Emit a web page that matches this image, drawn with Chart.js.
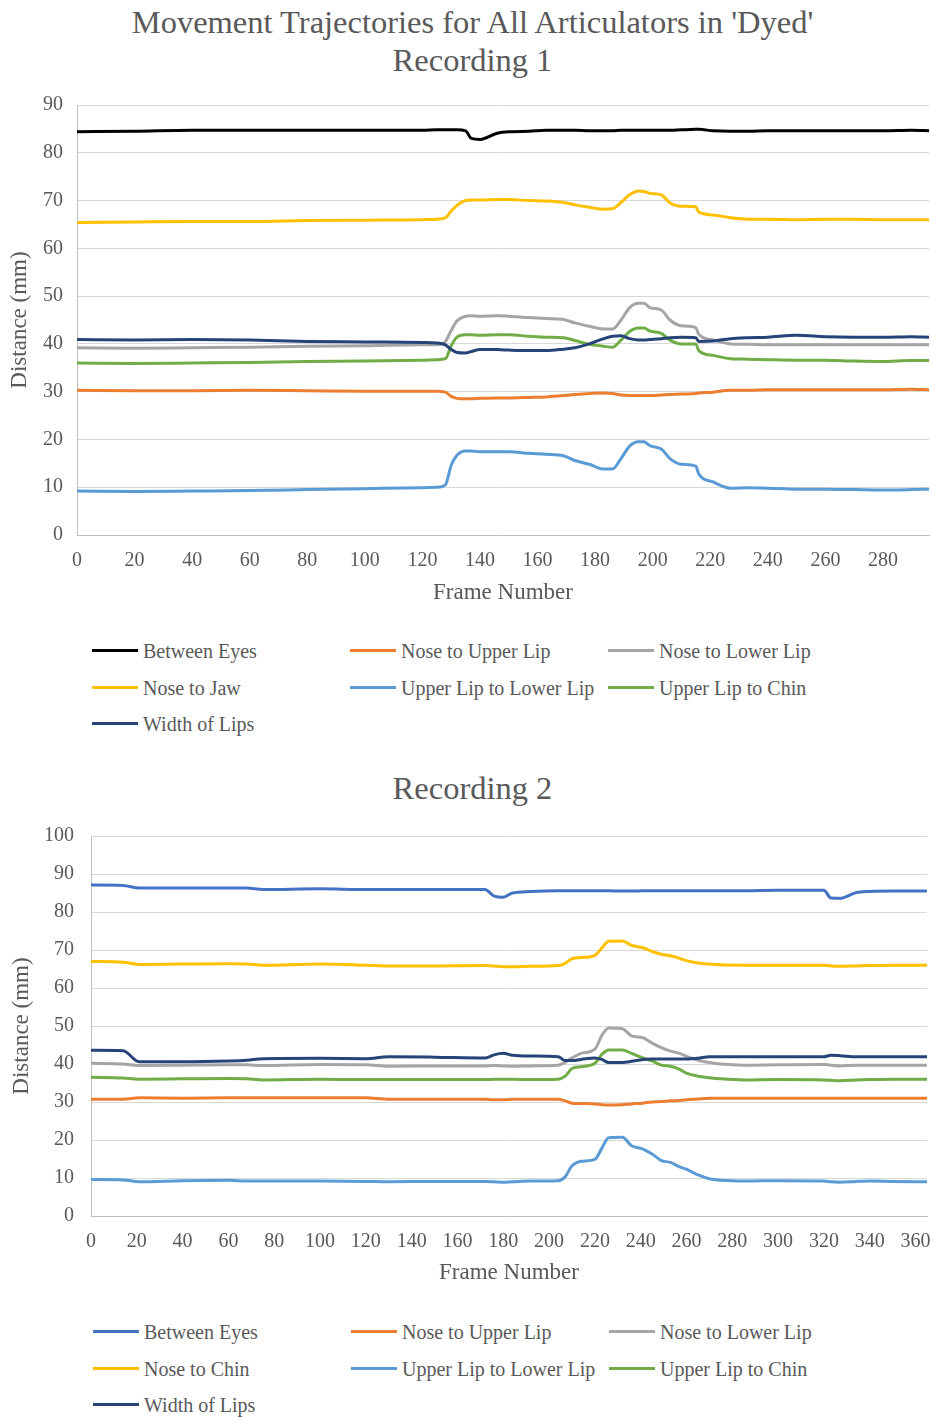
<!DOCTYPE html>
<html>
<head>
<meta charset="utf-8">
<title>Movement Trajectories - Dyed</title>
<script src="https://cdn.jsdelivr.net/npm/chart.js@4.4.0/dist/chart.umd.min.js"></script>
<style>
    body { margin: 0; background: #fff; width: 931px; height: 1418px; position: relative; overflow: hidden;
           font-family: "Liberation Serif", "Times New Roman", serif; color: #595959; }
    .title { position: absolute; left: 7px; width: 931px; text-align: center; font-size: 32.5px; line-height: 38px; white-space: nowrap; }
    .chart-box { position: absolute; left: 0; }
    .legend-item { position: absolute; height: 24px; font-size: 20px; line-height: 24px; white-space: nowrap; }
    .legend-item .swatch { position: absolute; left: 0; top: 10px; width: 46px; height: 3px; }
    .legend-item .label { position: absolute; left: 51px; top: 0; }
</style>
</head>
<body>

<div class="title" style="top:3px;">Movement Trajectories for All Articulators in 'Dyed'</div>
<div class="title" style="top:41px;">Recording 1</div>
<div class="chart-box" style="top:0;"><canvas id="chart1" width="931" height="610"></canvas></div>
<div id="legend1"></div>

<div class="title" style="top:769px;">Recording 2</div>
<div class="chart-box" style="top:740px;"><canvas id="chart2" width="931" height="554"></canvas></div>
<div id="legend2"></div>

<script>
// ---- Recording 1 ----
const frames1 = [0, 20, 40, 60, 80, 100, 120, 125, 128, 130, 132, 135, 137, 140, 146, 150, 157, 163, 169, 173, 178,
    183, 186, 189, 192, 195, 197, 199, 203, 206, 210, 215, 216, 221, 227, 233, 240, 250, 260, 270, 280, 290, 296];
const betweenEyes1 = [84.4, 84.5, 84.7, 84.7, 84.7, 84.7, 84.7, 84.8, 84.8, 84.8, 84.8, 84.6, 83.0, 82.8, 84.1, 84.4, 84.5, 84.7, 84.7, 84.7, 84.6,
    84.6, 84.6, 84.7, 84.7, 84.7, 84.7, 84.7, 84.7, 84.7, 84.8, 84.9, 84.9, 84.6, 84.5, 84.5, 84.6, 84.6, 84.6, 84.6, 84.6, 84.7, 84.6];
const noseUpperLip1 = [30.3, 30.2, 30.2, 30.3, 30.2, 30.1, 30.1, 30.1, 29.9, 29.0, 28.6, 28.5, 28.5, 28.6, 28.7, 28.7, 28.8, 28.9, 29.2, 29.4, 29.6,
    29.7, 29.6, 29.3, 29.2, 29.2, 29.2, 29.2, 29.3, 29.4, 29.5, 29.6, 29.7, 29.9, 30.3, 30.3, 30.4, 30.4, 30.4, 30.4, 30.4, 30.5, 30.4];
const noseLowerLip1 = [39.2, 39.1, 39.2, 39.3, 39.5, 39.6, 39.8, 39.8, 40.5, 42.8, 44.8, 45.8, 45.9, 45.8, 45.9, 45.8, 45.5, 45.3, 45.1, 44.4, 43.7,
    43.1, 43.1, 45.0, 47.6, 48.5, 48.5, 47.6, 47.1, 45.0, 43.8, 43.4, 42.0, 40.8, 40.0, 39.9, 39.8, 39.8, 39.8, 39.8, 39.8, 39.8, 39.8];
const noseJaw1 = [65.4, 65.5, 65.6, 65.6, 65.8, 65.9, 66.0, 66.1, 66.4, 67.8, 69.0, 70.0, 70.1, 70.1, 70.2, 70.2, 70.0, 69.9, 69.6, 69.1, 68.6,
    68.2, 68.3, 69.6, 71.2, 72.0, 71.9, 71.5, 71.2, 69.5, 68.8, 68.7, 67.6, 67.0, 66.4, 66.1, 66.1, 66.0, 66.1, 66.1, 66.0, 66.0, 66.0];
const lipGap1 = [9.2, 9.1, 9.2, 9.3, 9.5, 9.7, 9.9, 10.0, 10.5, 14.6, 16.7, 17.6, 17.6, 17.4, 17.4, 17.4, 17.1, 16.9, 16.6, 15.6, 14.8,
    13.8, 13.8, 16.0, 18.6, 19.5, 19.5, 18.7, 18.0, 16.0, 14.8, 14.4, 12.8, 11.1, 9.8, 9.9, 9.8, 9.6, 9.6, 9.5, 9.4, 9.5, 9.6];
const lipChin1 = [36.0, 35.9, 36.0, 36.1, 36.3, 36.4, 36.6, 36.7, 36.9, 39.6, 41.4, 41.9, 41.9, 41.8, 41.9, 41.9, 41.6, 41.4, 41.3, 40.7, 39.9,
    39.5, 39.3, 40.8, 42.6, 43.3, 43.3, 42.7, 42.2, 40.8, 40.0, 40.0, 38.6, 37.6, 36.9, 36.8, 36.7, 36.6, 36.6, 36.4, 36.3, 36.5, 36.5];
const lipWidth1 = [40.9, 40.8, 40.9, 40.8, 40.5, 40.4, 40.3, 40.2, 39.8, 38.8, 38.2, 38.1, 38.4, 38.8, 38.8, 38.7, 38.6, 38.6, 38.9, 39.2, 40.0,
    41.1, 41.6, 41.7, 41.1, 40.8, 40.8, 40.9, 41.1, 41.3, 41.4, 41.3, 40.5, 40.6, 41.1, 41.3, 41.4, 41.8, 41.5, 41.4, 41.4, 41.5, 41.4];

// ---- Recording 2 ----
const frames2 = [0, 14, 21, 40, 60, 68, 75, 100, 120, 130, 150, 172, 176, 180, 184, 192, 204, 207, 210, 214, 220,
    223, 226, 232, 236, 241, 245, 249, 253, 257, 260, 265, 270, 275, 285, 300, 320, 323, 327, 334, 340, 350, 365];
const betweenEyes2 = [87.1, 87.0, 86.3, 86.3, 86.3, 86.3, 85.9, 86.1, 85.9, 85.9, 85.9, 85.9, 84.2, 83.9, 85.0, 85.4, 85.6, 85.6, 85.6, 85.6, 85.6,
    85.6, 85.6, 85.5, 85.5, 85.6, 85.6, 85.6, 85.6, 85.6, 85.6, 85.6, 85.6, 85.6, 85.6, 85.7, 85.7, 83.7, 83.6, 85.1, 85.4, 85.5, 85.5];
const noseUpperLip2 = [30.7, 30.7, 31.1, 31.0, 31.1, 31.1, 31.1, 31.1, 31.1, 30.7, 30.7, 30.7, 30.6, 30.6, 30.7, 30.7, 30.7, 30.3, 29.7, 29.6, 29.5,
    29.3, 29.2, 29.3, 29.5, 29.7, 30.0, 30.1, 30.3, 30.4, 30.6, 30.8, 31.0, 31.0, 31.0, 31.0, 31.0, 31.0, 31.0, 31.0, 31.0, 31.0, 31.0];
const noseLowerLip2 = [40.2, 40.0, 39.6, 39.7, 39.8, 39.8, 39.6, 39.9, 39.8, 39.4, 39.5, 39.5, 39.6, 39.5, 39.4, 39.5, 39.7, 40.4, 41.6, 42.8, 43.9,
    47.5, 49.5, 49.3, 47.4, 46.9, 45.5, 44.3, 43.4, 42.8, 42.0, 41.0, 40.4, 40.0, 39.7, 39.8, 39.9, 39.7, 39.5, 39.7, 39.7, 39.7, 39.7];
const noseChin2 = [67.0, 66.8, 66.2, 66.3, 66.4, 66.3, 66.0, 66.3, 66.0, 65.8, 65.8, 65.9, 65.8, 65.6, 65.6, 65.7, 65.9, 66.5, 67.7, 68.0, 68.6,
    70.5, 72.3, 72.4, 71.2, 70.6, 69.6, 68.9, 68.5, 67.8, 67.2, 66.6, 66.3, 66.1, 66.0, 66.0, 66.0, 65.8, 65.7, 65.8, 65.9, 66.0, 66.0];
const lipGap2 = [9.6, 9.5, 9.0, 9.3, 9.4, 9.2, 9.2, 9.2, 9.1, 9.0, 9.1, 9.1, 9.0, 8.9, 9.0, 9.2, 9.3, 10.3, 13.2, 14.4, 14.9,
    17.8, 20.6, 20.7, 18.5, 17.6, 16.3, 14.6, 14.1, 12.9, 12.3, 10.8, 9.8, 9.4, 9.2, 9.3, 9.2, 9.0, 8.9, 9.1, 9.2, 9.1, 9.0];
const lipChin2 = [36.5, 36.3, 36.0, 36.1, 36.2, 36.1, 35.8, 36.0, 35.9, 35.9, 35.9, 35.9, 36.0, 36.0, 36.0, 35.9, 36.0, 36.8, 38.8, 39.3, 40.2,
    42.5, 43.7, 43.7, 42.8, 41.6, 40.8, 39.7, 39.4, 38.6, 37.6, 36.8, 36.4, 36.1, 35.8, 35.9, 35.8, 35.7, 35.6, 35.8, 35.9, 36.0, 36.0];
const lipWidth2 = [43.6, 43.5, 40.6, 40.6, 40.8, 41.0, 41.4, 41.5, 41.4, 41.9, 41.8, 41.6, 42.4, 42.8, 42.3, 42.1, 41.9, 40.9, 40.9, 41.2, 41.6,
    41.2, 40.4, 40.4, 40.7, 41.2, 41.3, 41.3, 41.3, 41.3, 41.3, 41.5, 41.9, 41.9, 41.9, 41.9, 41.9, 42.3, 42.2, 41.9, 41.9, 41.9, 41.9];

// names, tick labels
const names1 = ['Between Eyes', 'Nose to Upper Lip', 'Nose to Lower Lip', 'Nose to Jaw', 'Upper Lip to Lower Lip', 'Upper Lip to Chin', 'Width of Lips'];
const names2 = ['Between Eyes', 'Nose to Upper Lip', 'Nose to Lower Lip', 'Nose to Chin', 'Upper Lip to Lower Lip', 'Upper Lip to Chin', 'Width of Lips'];
const xTicks1 = [0, 20, 40, 60, 80, 100, 120, 140, 160, 180, 200, 220, 240, 260, 280];
const xTicks2 = [0, 20, 40, 60, 80, 100, 120, 140, 160, 180, 200, 220, 240, 260, 280, 300, 320, 340, 360];
const yTicks1 = [0, 10, 20, 30, 40, 50, 60, 70, 80, 90];
const yTicks2 = [0, 10, 20, 30, 40, 50, 60, 70, 80, 90, 100];

const colors1 = ['#000000', '#ED7D31', '#A5A5A5', '#FFC000', '#5B9BD5', '#70AD47', '#264478'];
const colors2 = ['#4472C4', '#ED7D31', '#A5A5A5', '#FFC000', '#5B9BD5', '#70AD47', '#264478'];

Chart.defaults.font.family = '"Liberation Serif", "Times New Roman", serif';
Chart.defaults.color = '#595959';

function buildChart(canvasId, frames, series, names, colors, cfg) {
    const datasets = series.map((values, i) => ({
        label: names[i],
        data: frames.map((f, j) => ({ x: f, y: values[j] })),
        borderColor: colors[i],
        backgroundColor: colors[i],
        borderWidth: 3,
        pointRadius: 0,
        cubicInterpolationMode: 'monotone',
        order: series.length - i
    }));

    new Chart(document.getElementById(canvasId), {
        type: 'line',
        data: { datasets: datasets },
        options: {
            responsive: false,
            animation: false,
            devicePixelRatio: 1,
            layout: { padding: { top: cfg.padTop, right: cfg.padRight, left: 0, bottom: 0 } },
            plugins: { legend: { display: false }, tooltip: { enabled: false } },
            scales: {
                x: {
                    type: 'linear',
                    min: 0,
                    max: cfg.xMax,
                    afterBuildTicks: scale => { scale.ticks = cfg.xTicks.map(v => ({ value: v })); },
                    afterFit: scale => {
                        scale.height = cfg.xAxisHeight;
                        scale.paddingLeft = 0;
                        scale.paddingRight = 0;
                    },
                    grid: { display: false, drawTicks: false },
                    border: { display: true, color: '#bfbfbf', width: 1 },
                    ticks: { font: { size: 20 }, padding: 14, maxRotation: 0, autoSkip: false },
                    title: { display: true, text: 'Frame Number', font: { size: 23 }, padding: { top: 0, bottom: cfg.xTitlePad } }
                },
                y: {
                    min: 0,
                    max: cfg.yMax,
                    afterBuildTicks: scale => { scale.ticks = cfg.yTicks.map(v => ({ value: v })); },
                    afterFit: scale => { scale.width = cfg.yAxisWidth; },
                    grid: { color: '#d9d9d9', lineWidth: 1, drawTicks: false },
                    border: { display: true, color: '#bfbfbf', width: 1 },
                    ticks: { font: { size: 20 }, padding: cfg.yTickPad },
                    title: { display: true, text: 'Distance (mm)', font: { size: 23 }, padding: { top: cfg.yTitlePad, bottom: 0 } }
                }
            }
        }
    });
}

function buildLegend(containerId, names, colors, left, top) {
    const box = document.getElementById(containerId);
    names.forEach((name, i) => {
        const item = document.createElement('div');
        item.className = 'legend-item';
        item.style.left = (left + (i % 3) * 258) + 'px';
        item.style.top = (top + Math.floor(i / 3) * 36.5) + 'px';
        item.innerHTML = `<span class="swatch" style="background:${colors[i]}"></span><span class="label">${name}</span>`;
        box.appendChild(item);
    });
}

buildChart('chart1', frames1,
    [betweenEyes1, noseUpperLip1, noseLowerLip1, noseJaw1, lipGap1, lipChin1, lipWidth1], names1, colors1,
    { padTop: 105, padRight: 2, xMax: 296, yMax: 90, xTicks: xTicks1, yTicks: yTicks1,
      xAxisHeight: 75, yAxisWidth: 77, xTitlePad: 3, yTitlePad: 6, yTickPad: 14 });

buildChart('chart2', frames2,
    [betweenEyes2, noseUpperLip2, noseLowerLip2, noseChin2, lipGap2, lipChin2, lipWidth2], names2, colors2,
    { padTop: 96, padRight: 4, xMax: 365, yMax: 100, xTicks: xTicks2, yTicks: yTicks2,
      xAxisHeight: 78, yAxisWidth: 91, xTitlePad: 7, yTitlePad: 8, yTickPad: 17 });

buildLegend('legend1', names1, colors1, 92, 639);
buildLegend('legend2', names2, colors2, 93, 1320);
</script>
</body>
</html>
